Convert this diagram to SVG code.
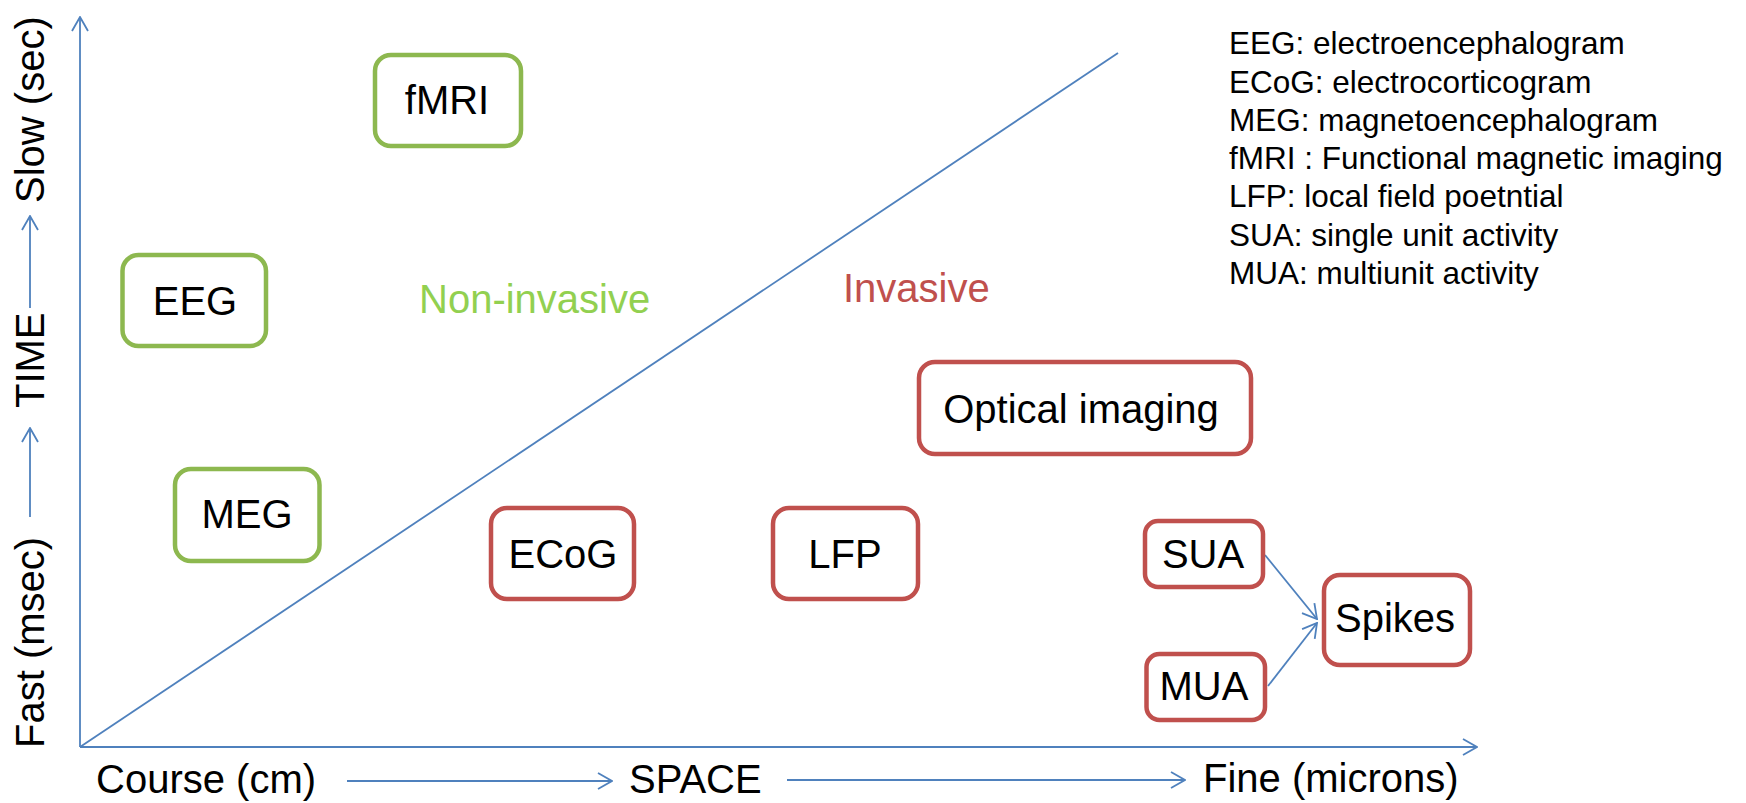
<svg xmlns="http://www.w3.org/2000/svg" width="1746" height="803" viewBox="0 0 1746 803">
<defs>
<style>
.t{font-family:"Liberation Sans",Arial,sans-serif;font-size:40px;fill:#000}
.leg{font-family:"Liberation Sans",Arial,sans-serif;font-size:31.5px;fill:#000}
.g{fill:#fff;stroke:#8DB84F;stroke-width:4.5}
.r{fill:#fff;stroke:#C0504D;stroke-width:4.5}
.ln{stroke:#4F81BD;stroke-width:1.8;fill:none}
</style>
<marker id="ah" viewBox="0 0 16 18" refX="15" refY="9" markerWidth="16" markerHeight="18" markerUnits="userSpaceOnUse" orient="auto">
<path d="M1,1 L15,9 L1,17" fill="none" stroke="#4F81BD" stroke-width="1.8"/>
</marker>
</defs>
<rect width="1746" height="803" fill="#fff"/>

<g id="connectors">
<line class="ln" x1="80" y1="747" x2="80" y2="17" marker-end="url(#ah)"/>
<line class="ln" x1="80" y1="747" x2="1477" y2="747" marker-end="url(#ah)"/>
<line class="ln" x1="80" y1="747" x2="1118" y2="53"/>
<line class="ln" x1="30" y1="517" x2="30" y2="428" marker-end="url(#ah)"/>
<line class="ln" x1="30" y1="308" x2="30" y2="216" marker-end="url(#ah)"/>
<line class="ln" x1="347" y1="781" x2="612" y2="781" marker-end="url(#ah)"/>
<line class="ln" x1="787" y1="780" x2="1185" y2="780" marker-end="url(#ah)"/>
<line class="ln" x1="1265" y1="555" x2="1317" y2="619" marker-end="url(#ah)"/>
<line class="ln" x1="1268" y1="686" x2="1317" y2="623" marker-end="url(#ah)"/>
</g>

<g id="axis-labels">
<text class="t" transform="translate(44,748) rotate(-90)">Fast (msec)</text>
<text class="t" transform="translate(44,408) rotate(-90)">TIME</text>
<text class="t" transform="translate(44,203) rotate(-90)">Slow (sec)</text>
<text class="t" x="96" y="793">Course (cm)</text>
<text class="t" x="629" y="793">SPACE</text>
<text class="t" x="1203" y="792">Fine (microns)</text>
</g>

<g id="regions">
<text class="t" x="419" y="313" style="fill:#92D050">Non-invasive</text>
<text class="t" x="843" y="302" style="fill:#C0504D">Invasive</text>
</g>

<g id="node-fmri"><rect class="g" x="375" y="55" width="146" height="91" rx="16"/><text class="t" x="447" y="114" text-anchor="middle">fMRI</text></g>
<g id="node-eeg"><rect class="g" x="122.5" y="255" width="143.5" height="91" rx="16"/><text class="t" x="195" y="315" text-anchor="middle">EEG</text></g>
<g id="node-meg"><rect class="g" x="175" y="469" width="144.5" height="92" rx="16"/><text class="t" x="247" y="528" text-anchor="middle">MEG</text></g>
<g id="node-ecog"><rect class="r" x="491" y="508" width="143" height="91" rx="16"/><text class="t" x="563" y="568" text-anchor="middle">ECoG</text></g>
<g id="node-lfp"><rect class="r" x="773" y="508" width="145" height="91" rx="16"/><text class="t" x="845" y="568" text-anchor="middle">LFP</text></g>
<g id="node-optical"><rect class="r" x="919" y="362" width="332" height="92" rx="16"/><text class="t" x="1081" y="423" text-anchor="middle">Optical imaging</text></g>
<g id="node-sua"><rect class="r" x="1145" y="521" width="118" height="66" rx="13"/><text class="t" x="1203" y="568" text-anchor="middle">SUA</text></g>
<g id="node-mua"><rect class="r" x="1146.5" y="654" width="118.5" height="66" rx="13"/><text class="t" x="1204" y="700" text-anchor="middle">MUA</text></g>
<g id="node-spikes"><rect class="r" x="1324" y="575" width="146" height="90" rx="16"/><text class="t" x="1395" y="632" text-anchor="middle">Spikes</text></g>

<g id="legend">
<text class="leg" x="1229" y="54">EEG: electroencephalogram</text>
<text class="leg" x="1229" y="92.5">ECoG: electrocorticogram</text>
<text class="leg" x="1229" y="131">MEG: magnetoencephalogram</text>
<text class="leg" x="1229" y="169">fMRI : Functional magnetic imaging</text>
<text class="leg" x="1229" y="207">LFP: local field poetntial</text>
<text class="leg" x="1229" y="245.5">SUA: single unit activity</text>
<text class="leg" x="1229" y="284">MUA: multiunit activity</text>
</g>
</svg>
